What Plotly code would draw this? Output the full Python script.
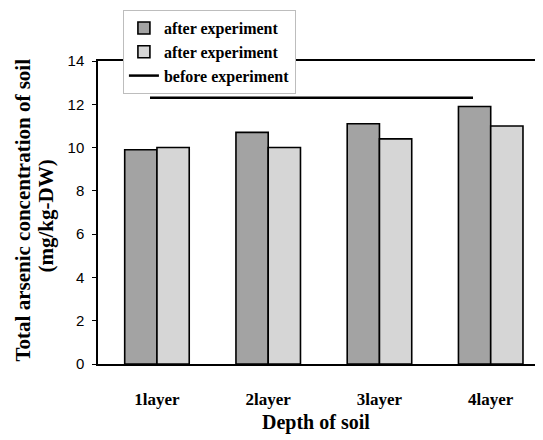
import plotly.graph_objects as go

categories = ["1layer", "2layer", "3layer", "4layer"]
after_dark = [9.9, 10.7, 11.1, 11.9]
after_light = [10.0, 10.0, 10.4, 11.0]
before = [12.3, 12.3, 12.3, 12.3]
y_ticks = [0, 2, 4, 6, 8, 10, 12, 14]

serif = "Liberation Serif, Times New Roman, serif"
sans = "Liberation Sans, Arial, sans-serif"

fig = go.Figure()
fig.add_trace(go.Bar(
    x=categories, y=after_dark, name="after experiment",
    marker=dict(color="#a3a3a3", line=dict(color="black", width=1.6)),
))
fig.add_trace(go.Bar(
    x=categories, y=after_light, name="after experiment",
    marker=dict(color="#d6d6d6", line=dict(color="black", width=1.6)),
))
fig.add_trace(go.Scatter(
    x=categories, y=before, name="before experiment", mode="lines",
    line=dict(color="black", width=2.5), xaxis="x2",
))

# page body has an 8px margin, so the figure is offset by 8px
fig.update_layout(
    width=535, height=432,
    margin=dict(l=90, r=0, t=53, b=76, autoexpand=False),
    paper_bgcolor="white", plot_bgcolor="white",
    barmode="group", bargap=0.42, bargroupgap=0,
    showlegend=True,
    legend=dict(
        x=0.056, y=1.168, xanchor="left", yanchor="top",
        bgcolor="white", bordercolor="#bdbdbd", borderwidth=1,
        font=dict(family=serif, size=16, color="black", weight="bold"),
        tracegroupgap=0,
    ),
    xaxis=dict(
        type="category", range=[-0.53, 3.47],
        showline=True, linecolor="black", linewidth=1.5, mirror=True,
        ticks="", showgrid=False, zeroline=False,
        tickfont=dict(family=serif, size=17, color="black", weight="bold"),
        ticklabelstandoff=19,
    ),
    xaxis2=dict(
        type="category", range=[-0.483, 3.65], overlaying="x",
        showline=False, showgrid=False, zeroline=False,
        showticklabels=False, ticks="",
    ),
    yaxis=dict(
        range=[0, 14], tickvals=y_ticks,
        showline=True, linecolor="black", linewidth=1.5,
        ticks="outside", ticklen=4, tickcolor="black",
        showgrid=False, zeroline=False,
        tickfont=dict(family=sans, size=15, color="black"),
        ticklabelstandoff=5,
    ),
    annotations=[
        dict(text="Total arsenic concentration of soil", textangle=-90,
             xref="paper", yref="paper", x=0, y=0.5, xanchor="center", yanchor="middle",
             xshift=-76, yshift=2, showarrow=False,
             font=dict(family=serif, size=21, color="black", weight="bold")),
        dict(text="(mg/kg-DW)", textangle=-90,
             xref="paper", yref="paper", x=0, y=0.5, xanchor="center", yanchor="middle",
             xshift=-53, yshift=-4, showarrow=False,
             font=dict(family=serif, size=21, color="black", weight="bold")),
        dict(text="Depth of soil",
             xref="paper", yref="paper", x=0.5, y=0, xanchor="center", yanchor="middle",
             xshift=-5, yshift=-58, showarrow=False,
             font=dict(family=serif, size=20, color="black", weight="bold")),
    ],
)

fig.write_html("out.html")
